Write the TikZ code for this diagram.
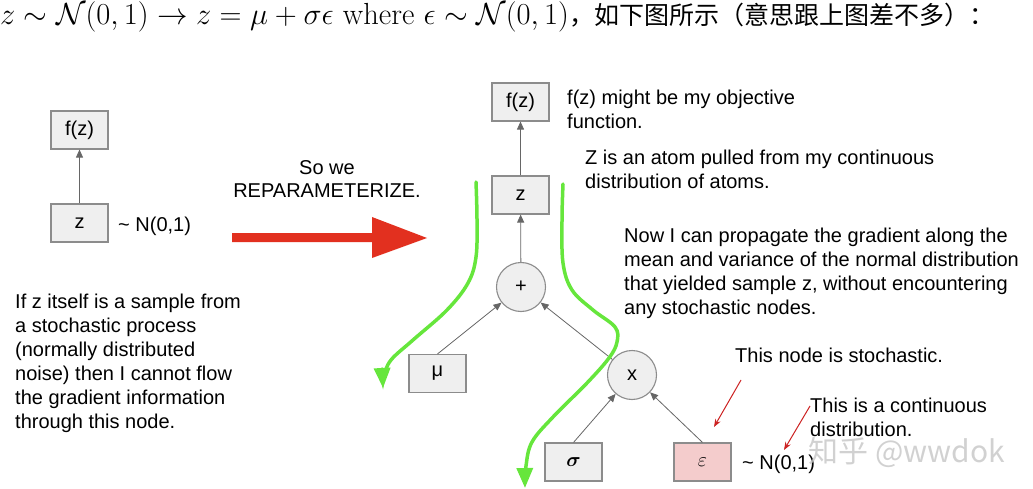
\RequirePackage{fix-cm}
\documentclass[tikz,border=0pt]{standalone}
\usepackage{amsmath,amssymb,bm}
\usepackage{fontspec}
\newfontfamily\arialfont{Liberation Sans}
\newfontfamily\cjkfont{Noto Sans CJK SC}
\usetikzlibrary{arrows.meta}

\definecolor{boxgray}{HTML}{EFEFEF}
\definecolor{bordergray}{HTML}{8C8C8C}
\definecolor{linkgray}{HTML}{666666}
\definecolor{noisepink}{HTML}{F4CCCC}
\definecolor{flowgreen}{HTML}{66E63C}
\definecolor{bigred}{HTML}{E2301F}
\definecolor{notered}{HTML}{CC2222}

\begin{document}
\begin{tikzpicture}[x=1pt, y=-1pt,
    var/.style={draw=bordergray, fill=boxgray, line width=1.1pt, minimum width=57pt,
        minimum height=38pt, inner sep=0pt, font=\arialfont\fontsize{20}{24}\selectfont},
    op/.style={circle, draw=bordergray, fill=boxgray, line width=1.1pt, minimum size=49pt,
        inner sep=0pt, font=\arialfont\fontsize{20}{24}\selectfont},
    link/.style={linkgray, line width=0.8pt, -{Triangle[length=8pt, width=7pt]}},
    flow/.style={flowgreen, line width=3.5pt, line cap=round, -{Triangle[length=20pt, width=16pt]}},
    note/.style={align=left, anchor=base west, inner sep=0pt, font=\arialfont\fontsize{20}{24}\selectfont},
    pointer/.style={notered, line width=1pt, -{Stealth[length=8pt, width=6pt]}}]
    \useasboundingbox (0,0) rectangle (1033,489);

    % Heading (base = last line for multi-line notes below)
    \node[anchor=base west, inner sep=0pt, font=\fontsize{30.5}{32}\selectfont] (head) at (0,25)
        {$z\sim\mathcal{N}(0,1)\rightarrow z=\mu+\sigma\epsilon\ \mathrm{where}\ \epsilon\sim\mathcal{N}(0,1)$};
    \node[anchor=base west, inner sep=0pt, font=\cjkfont\fontsize{25}{28}\selectfont] (headcn)
        at (head.base east) {，如下图所示（意思跟上图差不多）：};

    % Before
    \node[var] (fz0) at (79.5,130) {f(z)};
    \node[var] (z0) at (79.5,223) {z};
    \draw[link] (z0) -- (fz0);
    \node[note] (dist0) at (118,231) {\textasciitilde{} N(0,1)};
    \node[note] (why) at (15,428) {If z itself is a sample from\\a stochastic process\\(normally distributed\\noise) then I cannot flow\\the gradient information\\through this node.};

    % Big arrow
    \node[note, anchor=base, align=center] (so) at (327,198) {So we\\REPARAMETERIZE.};
    \fill[bigred] (232,233) -- (372,233) -- (372,217) -- (427,238) -- (372,258)
        -- (372,242) -- (232,242) -- cycle;

    % After
    \node[var] (fz) at (520.5,102) {f(z)};
    \node[var] (z) at (520.5,195) {z};
    \node[op] (plus) at (521,287) {+};
    \node[var] (mu) at (437.5,373.5) {μ};
    \node[op] (times) at (632,375) {x};
    \node[var] (sigma) at (573.5,462) {$\bm{\sigma}$};
    \node[var, fill=noisepink] (eps) at (702.5,462) {$\varepsilon$};
    \draw[link] (z) -- (fz);
    \draw[link] (plus) -- (z);
    \draw[link] (mu.north) -- (plus);
    \draw[link] (times) -- (plus);
    \draw[link] (sigma.north) -- (times);
    \draw[link] (eps.north) -- (times);
    \node[note] (dist) at (742,469) {\textasciitilde{} N(0,1)};

    % Gradient paths
    \draw[flow] plot[smooth, tension=0.6] coordinates {(476,182) (477,220) (476,257) (468,283)
        (447,310) (413,340) (391,360) (384,376) (383,388)};
    \draw[flow] plot[smooth, tension=0.6] coordinates {(563,184) (562,220) (563,263) (572,290)
        (593,310) (615,327) (617,342) (609,358) (587,383) (553,417) (532,442) (526,466) (525,488)};

    % Notes
    \node[note] (objective) at (567,129) {f(z) might be my objective\\function.};
    \node[note] (atom) at (585,189) {Z is an atom pulled from my continuous\\distribution of atoms.};
    \node[note] (now) at (624,314) {Now I can propagate the gradient along the\\mean and variance of the normal distribution\\that yielded sample z, without encountering\\any stochastic nodes.};
    \node[note] (stoch) at (735,362) {This node is stochastic.};
    \node[note] (cont) at (810,436) {This is a continuous\\distribution.};
    \coordinate (p1) at (741,380);
    \coordinate (q1) at (714,427);
    \coordinate (p2) at (810,406);
    \coordinate (q2) at (784,450);
    \draw[pointer] (p1) -- (q1);
    \draw[pointer] (p2) -- (q2);

    % Watermark
    \node[anchor=center, inner sep=0pt, text=gray!45, opacity=0.8,
        font=\cjkfont\fontsize{30}{32}\selectfont] (mark) at (907,452) {知乎 @wwdok};
\end{tikzpicture}
\end{document}
